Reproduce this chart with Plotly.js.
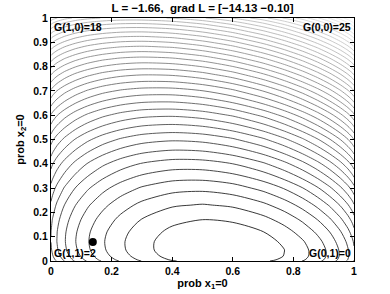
<!DOCTYPE html>
<html>
<head>
<meta charset="utf-8">
<script src="https://cdn.plot.ly/plotly-3.0.1.min.js"></script>
<style>
  html, body { margin: 0; padding: 0; background: #fff; }
  #chart { width: 390px; height: 294px; }
</style>
</head>
<body>
<div id="chart"></div>
<script>
/* L over (prob x1=0, prob x2=0) */

const probX1 = [0, 0.005, 0.02, 0.045, 0.08, 0.12, 0.17, 0.23, 0.3, 0.4, 0.5, 0.6, 0.7, 0.77, 0.83, 0.88, 0.92, 0.955, 0.98, 0.995, 1];
const probX2 = [0, 0.005, 0.02, 0.045, 0.08, 0.12, 0.17, 0.23, 0.3, 0.4, 0.5, 0.6, 0.7, 0.77, 0.83, 0.88, 0.92, 0.955, 0.98, 0.995, 1];

// one row per probX2 value, one column per probX1 value
const Lgrid = [
  [2.00, 1.77, 1.27, 0.63, -0.11, -0.81, -1.53, -2.23, -2.88, -3.51, -3.85, -3.91, -3.68, -3.31, -2.85, -2.33, -1.79, -1.19, -0.65, -0.21, 0.00],
  [1.86, 1.63, 1.13, 0.49, -0.25, -0.94, -1.66, -2.36, -3.00, -3.63, -3.97, -4.02, -3.78, -3.42, -2.95, -2.43, -1.89, -1.29, -0.74, -0.31, -0.10],
  [1.63, 1.40, 0.91, 0.27, -0.46, -1.15, -1.87, -2.56, -3.19, -3.81, -4.13, -4.17, -3.92, -3.54, -3.07, -2.54, -1.99, -1.39, -0.84, -0.40, -0.19],
  [1.44, 1.21, 0.72, 0.08, -0.64, -1.32, -2.03, -2.71, -3.32, -3.91, -4.21, -4.23, -3.96, -3.57, -3.08, -2.54, -1.98, -1.37, -0.81, -0.37, -0.16],
  [1.33, 1.10, 0.62, -0.01, -0.73, -1.39, -2.08, -2.74, -3.33, -3.89, -4.16, -4.15, -3.84, -3.43, -2.93, -2.37, -1.80, -1.18, -0.61, -0.17, 0.05],
  [1.35, 1.13, 0.65, 0.03, -0.67, -1.33, -2.00, -2.64, -3.20, -3.73, -3.96, -3.91, -3.57, -3.13, -2.60, -2.03, -1.45, -0.81, -0.24, 0.22, 0.43],
  [1.53, 1.31, 0.83, 0.22, -0.46, -1.10, -1.74, -2.35, -2.89, -3.37, -3.56, -3.46, -3.08, -2.61, -2.05, -1.45, -0.86, -0.20, 0.38, 0.84, 1.06],
  [1.91, 1.69, 1.22, 0.62, -0.04, -0.66, -1.27, -1.85, -2.35, -2.78, -2.91, -2.76, -2.32, -1.82, -1.23, -0.60, 0.02, 0.69, 1.29, 1.75, 1.98],
  [2.52, 2.31, 1.85, 1.27, 0.63, 0.04, -0.55, -1.09, -1.54, -1.91, -1.98, -1.77, -1.26, -0.71, -0.09, 0.57, 1.22, 1.91, 2.52, 3.00, 3.22],
  [3.69, 3.48, 3.03, 2.48, 1.87, 1.31, 0.77, 0.28, -0.11, -0.38, -0.36, -0.06, 0.53, 1.15, 1.83, 2.53, 3.21, 3.93, 4.57, 5.06, 5.29],
  [5.15, 4.94, 4.51, 3.98, 3.40, 2.88, 2.38, 1.95, 1.62, 1.44, 1.55, 1.94, 2.62, 3.30, 4.03, 4.78, 5.50, 6.25, 6.91, 7.42, 7.65],
  [6.89, 6.69, 6.27, 5.76, 5.21, 4.73, 4.28, 3.90, 3.63, 3.54, 3.74, 4.22, 4.99, 5.73, 6.52, 7.31, 8.07, 8.85, 9.53, 10.05, 10.29],
  [8.92, 8.73, 8.32, 7.83, 7.32, 6.87, 6.46, 6.14, 5.94, 5.93, 6.22, 6.79, 7.66, 8.46, 9.30, 10.14, 10.93, 11.75, 12.45, 12.98, 13.22],
  [10.55, 10.35, 9.96, 9.48, 8.99, 8.57, 8.19, 7.90, 7.75, 7.81, 8.16, 8.79, 9.72, 10.57, 11.45, 12.32, 13.13, 13.97, 14.69, 15.23, 15.48],
  [12.09, 11.90, 11.51, 11.05, 10.58, 10.18, 9.83, 9.57, 9.45, 9.57, 9.97, 10.66, 11.64, 12.53, 13.44, 14.33, 15.17, 16.03, 16.76, 17.31, 17.56],
  [13.51, 13.32, 12.94, 12.49, 12.03, 11.65, 11.33, 11.10, 11.01, 11.17, 11.62, 12.35, 13.38, 14.30, 15.23, 16.15, 17.01, 17.88, 18.63, 19.18, 19.43],
  [14.77, 14.58, 14.21, 13.77, 13.32, 12.95, 12.65, 12.44, 12.38, 12.57, 13.06, 13.83, 14.89, 15.83, 16.79, 17.73, 18.59, 19.48, 20.24, 20.80, 21.05],
  [16.00, 15.81, 15.44, 15.01, 14.57, 14.22, 13.93, 13.74, 13.70, 13.92, 14.44, 15.24, 16.34, 17.30, 18.28, 19.23, 20.11, 21.01, 21.77, 22.34, 22.59],
  [16.99, 16.81, 16.44, 16.02, 15.59, 15.24, 14.96, 14.79, 14.76, 15.01, 15.55, 16.37, 17.49, 18.47, 19.46, 20.43, 21.32, 22.22, 22.99, 23.56, 23.81],
  [17.70, 17.51, 17.15, 16.73, 16.30, 15.97, 15.69, 15.52, 15.51, 15.77, 16.33, 17.16, 18.29, 19.28, 20.28, 21.25, 22.15, 23.06, 23.83, 24.40, 24.65],
  [18.00, 17.81, 17.45, 17.03, 16.61, 16.27, 16.00, 15.84, 15.82, 16.09, 16.65, 17.49, 18.62, 19.62, 20.62, 21.59, 22.49, 23.40, 24.17, 24.74, 25.00]
];

// current point
const dotX = [0.138];
const dotY = [0.078];

// corner payoffs
const cornerText = ['G(1,0)=18', 'G(0,0)=25', 'G(1,1)=2', 'G(0,1)=0'];

const titleText = 'L = \u22121.66,  grad L = [\u221214.13 \u22120.10]';
const xTicks = [0, 0.2, 0.4, 0.6, 0.8, 1];
const yTicks = [0, 0.1, 0.2, 0.3, 0.4, 0.5, 0.6, 0.7, 0.8, 0.9, 1];

const FONT = 'Liberation Sans, Arial, Helvetica, sans-serif';
const boldFont = (size) => ({ family: FONT, size: size, color: '#000', weight: 'bold' });

const traces = [
  {
    type: 'contour',
    x: probX1, y: probX2, z: Lgrid,
    contours: { coloring: 'lines', start: -3.56, end: 24.4, size: 0.70, showlabels: false },
    line: { width: 0.8, smoothing: 0.8 },
    colorscale: [[0, '#000000'], [0.5, '#7a7a7a'], [1, '#ececec']],
    zmin: -4.26, zmax: 25,
    showscale: false,
    hoverinfo: 'skip'
  },
  {
    type: 'scatter', mode: 'markers',
    x: dotX, y: dotY,
    marker: { color: '#000', size: 8 },
    hoverinfo: 'skip'
  }
];

// corner labels sit just inside the axes box
const corners = [
  { x: 0, y: 1, xanchor: 'left', yanchor: 'top' },
  { x: 1, y: 1, xanchor: 'right', yanchor: 'top' },
  { x: 0, y: 0, xanchor: 'left', yanchor: 'bottom' },
  { x: 1, y: 0, xanchor: 'right', yanchor: 'bottom' }
];

const annotations = corners.map((c, i) => ({
  xref: 'paper', yref: 'paper', x: c.x, y: c.y,
  xanchor: c.xanchor, yanchor: c.yanchor,
  xshift: c.x === 0 ? 1 : -1, yshift: c.y === 0 ? 0 : -1,
  text: cornerText[i], showarrow: false,
  font: boldFont(10.5)
}));

const axisBase = {
  range: [0, 1], showgrid: false, zeroline: false,
  showline: true, linecolor: '#000', linewidth: 1, mirror: 'allticks',
  ticks: 'inside', ticklen: 4, tickcolor: '#000', tickwidth: 1,
  tickfont: boldFont(10.5)
};

const layout = {
  width: 390, height: 294,
  margin: { l: 51, r: 36, t: 18, b: 33 },
  paper_bgcolor: '#fff', plot_bgcolor: '#fff',
  showlegend: false,
  title: {
    text: titleText, font: boldFont(11.5),
    xref: 'paper', x: 0.5, xanchor: 'center',
    yref: 'container', y: 0.972, yanchor: 'middle'
  },
  xaxis: Object.assign({}, axisBase, {
    tickvals: xTicks, ticktext: xTicks.map(String),
    title: { text: 'prob x<sub>1</sub>=0', font: boldFont(11), standoff: 2 }
  }),
  yaxis: Object.assign({}, axisBase, {
    tickvals: yTicks, ticktext: yTicks.map(String),
    title: { text: 'prob x<sub>2</sub>=0', font: boldFont(11), standoff: 6 }
  }),
  annotations: annotations
};

Plotly.newPlot('chart', traces, layout, { staticPlot: true, displayModeBar: false });
</script>
</body>
</html>
